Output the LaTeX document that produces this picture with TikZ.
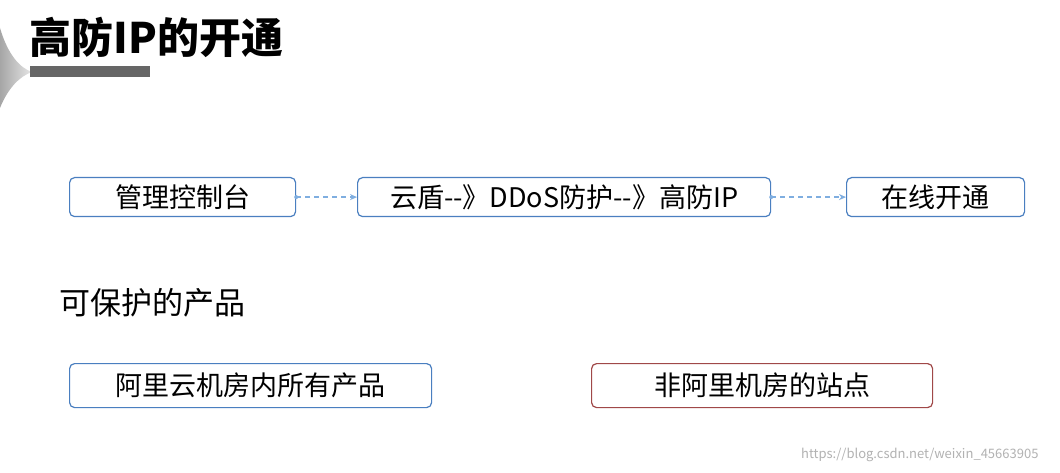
\documentclass[tikz,border=0pt]{standalone}
\usepackage{fontspec}
\setmainfont{Noto Sans CJK SC}
\newfontfamily\titlefont{Noto Sans CJK SC Black}
\usetikzlibrary{arrows.meta}
\definecolor{boxblue}{HTML}{4A7FC0}
\definecolor{boxred}{HTML}{A04848}
\definecolor{arr}{HTML}{7FAEE0}
\tikzset{
 bx/.style={draw=boxblue,line width=1.2pt,rounded corners=5pt,fill=white,anchor=north west,inner sep=0pt,font=\fontsize{27}{30}\selectfont},
 lnk/.style={draw=arr,line width=1.3pt,dash pattern=on 5pt off 4pt,-{Stealth[length=7pt,width=6pt]}}
}
\begin{document}
\begin{tikzpicture}[x=1pt,y=-1pt]
\useasboundingbox (0,0) rectangle (1060,473);
\fill[white] (0,0) rectangle (1060,473);
\shade[left color=gray!70,right color=gray!20] (0,28) .. controls (8,55) and (20,68) .. (32,72) .. controls (20,76) and (8,88) .. (0,108) -- cycle;
\node[anchor=west,font=\fontsize{42}{46}\selectfont\bfseries] (title) at (26,37) {高防IP的开通};
\fill[gray!80!black] (30,66) rectangle (150,77);
\node[bx,minimum width=226pt,minimum height=39pt] (b1) at (69,177) {管理控制台};
\node[bx,minimum width=413pt,minimum height=39pt] (b2) at (357,177) {云盾-{}-》DDoS防护-{}-》高防IP};
\node[bx,minimum width=178pt,minimum height=39pt] (b3) at (846,177) {在线开通};
\fill[arr] (b1.east) circle (2pt);
\fill[arr] (b2.east) circle (2pt);
\draw[lnk] (b1.east) -- (b2.west);
\draw[lnk] (b2.east) -- (b3.west);
\node[anchor=west,font=\fontsize{31}{34}\selectfont] (lbl) at (56,303) {可保护的产品};
\node[bx,minimum width=362pt,minimum height=44pt] (b4) at (69,363) {阿里云机房内所有产品};
\node[bx,draw=boxred,minimum width=341pt,minimum height=44pt] (b5) at (591,363) {非阿里机房的站点};
\node[anchor=east,text=gray!60,font=\fontsize{13}{15}\selectfont] (wm) at (1042,455) {https://blog.csdn.net/weixin\_45663905};
\end{tikzpicture}
\end{document}
